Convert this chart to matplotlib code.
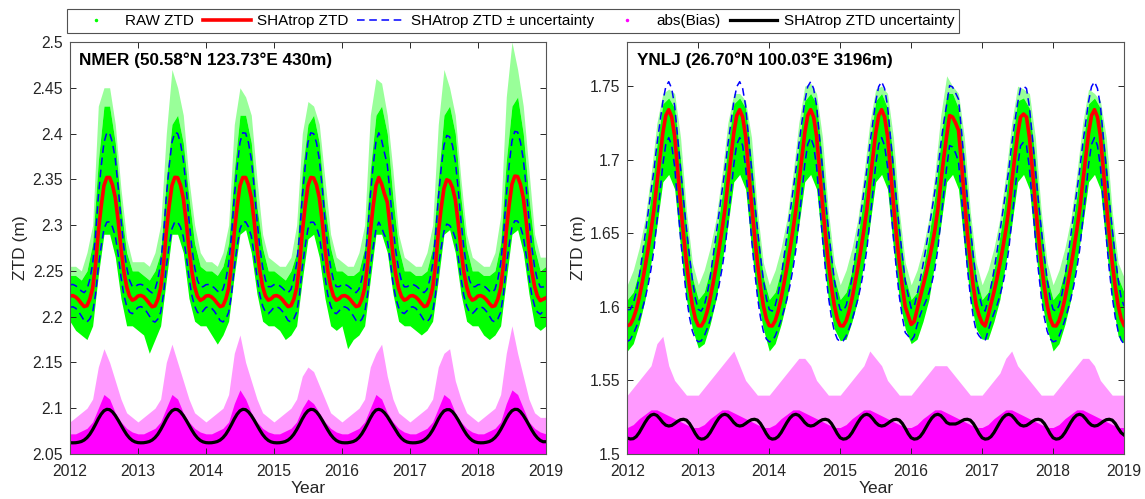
import numpy as np
import matplotlib
matplotlib.use("Agg")
import matplotlib.pyplot as plt
from matplotlib.lines import Line2D
from matplotlib.ticker import FormatStrFormatter

plt.rcParams['font.family'] = ['Liberation Sans', 'DejaVu Sans']

# time axes: model curves every half month, raw/bias envelopes every month (2012.0 - 2019.0)
t_half = 2012 + np.arange(169) / 24
t_month = 2012 + np.arange(85) / 12

# ---------------- NMER ----------------
nmer_ztd = np.array([
    2.2225, 2.2230, 2.2215, 2.2185, 2.2145, 2.2110, 2.2120, 2.2190, 2.2310, 2.2560, 2.2920, 2.3200,
    2.3430, 2.3520, 2.3520, 2.3440, 2.3300, 2.3050, 2.2750, 2.2500, 2.2330, 2.2225, 2.2180, 2.2195,
    2.2225, 2.2232, 2.2218, 2.2185, 2.2145, 2.2108, 2.2118, 2.2188, 2.2312, 2.2565, 2.2925, 2.3205,
    2.3432, 2.3522, 2.3518, 2.3438, 2.3295, 2.3045, 2.2748, 2.2498, 2.2328, 2.2222, 2.2178, 2.2195,
    2.2225, 2.2230, 2.2215, 2.2185, 2.2145, 2.2110, 2.2120, 2.2190, 2.2310, 2.2560, 2.2920, 2.3200,
    2.3430, 2.3520, 2.3520, 2.3440, 2.3300, 2.3050, 2.2750, 2.2500, 2.2330, 2.2225, 2.2180, 2.2195,
    2.2225, 2.2230, 2.2215, 2.2185, 2.2145, 2.2110, 2.2120, 2.2190, 2.2310, 2.2560, 2.2920, 2.3200,
    2.3430, 2.3520, 2.3515, 2.3440, 2.3300, 2.3050, 2.2750, 2.2500, 2.2330, 2.2225, 2.2180, 2.2195,
    2.2225, 2.2230, 2.2215, 2.2185, 2.2145, 2.2110, 2.2120, 2.2190, 2.2310, 2.2560, 2.2920, 2.3200,
    2.3430, 2.3520, 2.3450, 2.3340, 2.3250, 2.2980, 2.2680, 2.2460, 2.2310, 2.2220, 2.2180, 2.2195,
    2.2225, 2.2230, 2.2215, 2.2185, 2.2145, 2.2110, 2.2120, 2.2190, 2.2310, 2.2555, 2.2910, 2.3180,
    2.3400, 2.3495, 2.3480, 2.3410, 2.3280, 2.3030, 2.2740, 2.2495, 2.2330, 2.2225, 2.2180, 2.2195,
    2.2225, 2.2230, 2.2215, 2.2185, 2.2145, 2.2110, 2.2120, 2.2190, 2.2310, 2.2565, 2.2930, 2.3215,
    2.3445, 2.3535, 2.3530, 2.3445, 2.3300, 2.3050, 2.2750, 2.2500, 2.2330, 2.2225, 2.2175, 2.2190,
    2.2205])

nmer_unc = np.array([
    0.0123, 0.0122, 0.0123, 0.0128, 0.0136, 0.0152, 0.0178, 0.0215, 0.0265, 0.0322, 0.0383, 0.0435,
    0.0472, 0.0488, 0.0484, 0.0460, 0.0420, 0.0370, 0.0315, 0.0262, 0.0213, 0.0175, 0.0148, 0.0132,
    0.0124, 0.0122, 0.0123, 0.0128, 0.0136, 0.0152, 0.0178, 0.0215, 0.0265, 0.0322, 0.0383, 0.0435,
    0.0472, 0.0488, 0.0484, 0.0460, 0.0420, 0.0370, 0.0315, 0.0262, 0.0213, 0.0175, 0.0148, 0.0132,
    0.0124, 0.0122, 0.0123, 0.0128, 0.0136, 0.0152, 0.0178, 0.0215, 0.0265, 0.0322, 0.0383, 0.0435,
    0.0472, 0.0488, 0.0484, 0.0460, 0.0420, 0.0370, 0.0315, 0.0262, 0.0213, 0.0175, 0.0148, 0.0132,
    0.0124, 0.0122, 0.0123, 0.0128, 0.0136, 0.0152, 0.0178, 0.0215, 0.0265, 0.0322, 0.0383, 0.0435,
    0.0472, 0.0488, 0.0484, 0.0460, 0.0420, 0.0370, 0.0315, 0.0262, 0.0213, 0.0175, 0.0148, 0.0132,
    0.0124, 0.0122, 0.0123, 0.0128, 0.0136, 0.0152, 0.0180, 0.0220, 0.0272, 0.0330, 0.0392, 0.0445,
    0.0480, 0.0488, 0.0478, 0.0450, 0.0410, 0.0360, 0.0308, 0.0258, 0.0210, 0.0172, 0.0146, 0.0131,
    0.0124, 0.0122, 0.0123, 0.0128, 0.0136, 0.0152, 0.0176, 0.0212, 0.0260, 0.0318, 0.0380, 0.0432,
    0.0470, 0.0484, 0.0484, 0.0462, 0.0422, 0.0372, 0.0316, 0.0262, 0.0213, 0.0175, 0.0148, 0.0132,
    0.0124, 0.0122, 0.0123, 0.0128, 0.0136, 0.0152, 0.0178, 0.0215, 0.0265, 0.0322, 0.0383, 0.0435,
    0.0472, 0.0488, 0.0486, 0.0462, 0.0422, 0.0372, 0.0316, 0.0262, 0.0213, 0.0175, 0.0148, 0.0134,
    0.0134])

nmer_raw_lo = np.array([
    2.195, 2.185, 2.180, 2.175, 2.190, 2.245, 2.290, 2.290, 2.265, 2.220, 2.190, 2.190,
    2.185, 2.180, 2.160, 2.175, 2.190, 2.240, 2.290, 2.290, 2.270, 2.220, 2.195, 2.190,
    2.190, 2.180, 2.170, 2.180, 2.195, 2.245, 2.290, 2.295, 2.270, 2.225, 2.195, 2.190,
    2.190, 2.185, 2.175, 2.180, 2.190, 2.240, 2.285, 2.290, 2.265, 2.220, 2.190, 2.185,
    2.190, 2.165, 2.175, 2.180, 2.190, 2.240, 2.290, 2.290, 2.270, 2.225, 2.195, 2.190,
    2.190, 2.185, 2.180, 2.185, 2.195, 2.240, 2.290, 2.295, 2.270, 2.225, 2.195, 2.190,
    2.190, 2.180, 2.175, 2.180, 2.190, 2.240, 2.290, 2.295, 2.270, 2.225, 2.190, 2.185,
    2.190])

nmer_raw_hi = np.array([
    2.245, 2.245, 2.240, 2.250, 2.280, 2.370, 2.430, 2.430, 2.390, 2.320, 2.270, 2.250,
    2.250, 2.245, 2.240, 2.250, 2.270, 2.350, 2.410, 2.420, 2.390, 2.330, 2.280, 2.255,
    2.250, 2.250, 2.245, 2.255, 2.280, 2.360, 2.420, 2.420, 2.390, 2.320, 2.275, 2.250,
    2.250, 2.245, 2.240, 2.250, 2.270, 2.360, 2.410, 2.420, 2.390, 2.320, 2.275, 2.250,
    2.250, 2.245, 2.245, 2.250, 2.275, 2.360, 2.420, 2.430, 2.400, 2.330, 2.275, 2.250,
    2.250, 2.245, 2.245, 2.250, 2.275, 2.350, 2.420, 2.430, 2.400, 2.330, 2.275, 2.250,
    2.250, 2.245, 2.245, 2.250, 2.280, 2.370, 2.430, 2.440, 2.400, 2.330, 2.275, 2.250,
    2.255])

nmer_raw_top = np.array([
    2.255, 2.255, 2.250, 2.270, 2.300, 2.430, 2.450, 2.450, 2.410, 2.340, 2.285, 2.260,
    2.260, 2.260, 2.255, 2.270, 2.300, 2.400, 2.470, 2.450, 2.420, 2.350, 2.300, 2.270,
    2.260, 2.260, 2.255, 2.270, 2.300, 2.410, 2.450, 2.440, 2.420, 2.350, 2.290, 2.265,
    2.260, 2.255, 2.255, 2.265, 2.300, 2.400, 2.435, 2.430, 2.410, 2.350, 2.290, 2.265,
    2.260, 2.255, 2.255, 2.270, 2.300, 2.420, 2.460, 2.455, 2.420, 2.360, 2.290, 2.265,
    2.260, 2.255, 2.255, 2.270, 2.300, 2.410, 2.470, 2.450, 2.420, 2.350, 2.290, 2.265,
    2.260, 2.255, 2.255, 2.270, 2.310, 2.440, 2.500, 2.470, 2.430, 2.360, 2.290, 2.265,
    2.265])

nmer_bias_core = np.array([
    0.022, 0.022, 0.025, 0.028, 0.035, 0.050, 0.065, 0.060, 0.045, 0.035, 0.028, 0.024,
    0.022, 0.022, 0.025, 0.028, 0.035, 0.050, 0.065, 0.060, 0.045, 0.035, 0.028, 0.024,
    0.022, 0.022, 0.025, 0.028, 0.035, 0.055, 0.070, 0.060, 0.045, 0.035, 0.028, 0.024,
    0.022, 0.022, 0.025, 0.028, 0.035, 0.050, 0.060, 0.055, 0.045, 0.035, 0.028, 0.024,
    0.022, 0.022, 0.025, 0.028, 0.035, 0.050, 0.065, 0.060, 0.045, 0.035, 0.028, 0.024,
    0.022, 0.022, 0.025, 0.028, 0.035, 0.050, 0.065, 0.060, 0.045, 0.035, 0.028, 0.024,
    0.022, 0.022, 0.025, 0.028, 0.035, 0.055, 0.070, 0.065, 0.050, 0.035, 0.028, 0.024,
    0.022])

nmer_bias_top = np.array([
    0.035, 0.040, 0.045, 0.050, 0.060, 0.095, 0.115, 0.100, 0.080, 0.060, 0.045, 0.040,
    0.035, 0.040, 0.045, 0.050, 0.060, 0.100, 0.120, 0.100, 0.080, 0.060, 0.045, 0.040,
    0.035, 0.040, 0.045, 0.050, 0.065, 0.110, 0.130, 0.100, 0.080, 0.060, 0.045, 0.040,
    0.035, 0.040, 0.045, 0.050, 0.060, 0.085, 0.095, 0.090, 0.075, 0.060, 0.045, 0.040,
    0.035, 0.040, 0.045, 0.050, 0.060, 0.095, 0.110, 0.120, 0.085, 0.060, 0.045, 0.040,
    0.035, 0.040, 0.045, 0.050, 0.060, 0.095, 0.110, 0.115, 0.080, 0.060, 0.045, 0.040,
    0.035, 0.040, 0.045, 0.050, 0.065, 0.110, 0.140, 0.110, 0.085, 0.060, 0.045, 0.040,
    0.040])

# ---------------- YNLJ ----------------
ynlj_ztd = np.array([
    1.5872, 1.5880, 1.5920, 1.5980, 1.6060, 1.6160, 1.6270, 1.6390, 1.6520, 1.6660, 1.6840, 1.7010,
    1.7180, 1.7300, 1.7340, 1.7290, 1.7160, 1.6930, 1.6700, 1.6490, 1.6300, 1.6140, 1.6010, 1.5920,
    1.5872, 1.5870, 1.5905, 1.5970, 1.6055, 1.6160, 1.6270, 1.6390, 1.6520, 1.6660, 1.6840, 1.7010,
    1.7180, 1.7300, 1.7340, 1.7290, 1.7160, 1.6930, 1.6700, 1.6490, 1.6300, 1.6140, 1.6010, 1.5920,
    1.5872, 1.5870, 1.5905, 1.5970, 1.6055, 1.6160, 1.6270, 1.6390, 1.6520, 1.6660, 1.6840, 1.7010,
    1.7180, 1.7300, 1.7340, 1.7290, 1.7160, 1.6930, 1.6700, 1.6490, 1.6300, 1.6140, 1.6010, 1.5920,
    1.5872, 1.5870, 1.5905, 1.5970, 1.6055, 1.6160, 1.6270, 1.6390, 1.6520, 1.6660, 1.6840, 1.7010,
    1.7180, 1.7300, 1.7340, 1.7290, 1.7160, 1.6930, 1.6700, 1.6490, 1.6300, 1.6140, 1.6000, 1.5940,
    1.5880, 1.5900, 1.5980, 1.6060, 1.6140, 1.6220, 1.6310, 1.6410, 1.6520, 1.6660, 1.6840, 1.7010,
    1.7160, 1.7300, 1.7290, 1.7250, 1.7200, 1.6980, 1.6730, 1.6500, 1.6310, 1.6140, 1.6010, 1.5940,
    1.5890, 1.5870, 1.5940, 1.6020, 1.6100, 1.6190, 1.6290, 1.6400, 1.6520, 1.6660, 1.6840, 1.7010,
    1.7170, 1.7290, 1.7310, 1.7290, 1.7150, 1.6930, 1.6700, 1.6490, 1.6300, 1.6140, 1.6010, 1.5920,
    1.5872, 1.5870, 1.5905, 1.5970, 1.6055, 1.6160, 1.6270, 1.6390, 1.6520, 1.6660, 1.6840, 1.7010,
    1.7180, 1.7300, 1.7340, 1.7290, 1.7160, 1.6930, 1.6700, 1.6490, 1.6300, 1.6140, 1.6010, 1.5920,
    1.5875])

ynlj_unc = np.array([
    0.0108, 0.0102, 0.0104, 0.0118, 0.0145, 0.0180, 0.0215, 0.0245, 0.0264, 0.0270, 0.0262, 0.0240,
    0.0214, 0.0196, 0.0190, 0.0194, 0.0207, 0.0222, 0.0233, 0.0236, 0.0230, 0.0208, 0.0175, 0.0138,
    0.0110, 0.0101, 0.0104, 0.0118, 0.0145, 0.0180, 0.0215, 0.0245, 0.0264, 0.0270, 0.0262, 0.0240,
    0.0214, 0.0196, 0.0190, 0.0194, 0.0207, 0.0222, 0.0233, 0.0236, 0.0230, 0.0208, 0.0175, 0.0138,
    0.0110, 0.0101, 0.0104, 0.0118, 0.0145, 0.0180, 0.0215, 0.0245, 0.0264, 0.0270, 0.0262, 0.0240,
    0.0214, 0.0196, 0.0190, 0.0194, 0.0207, 0.0222, 0.0233, 0.0236, 0.0230, 0.0208, 0.0175, 0.0138,
    0.0110, 0.0101, 0.0104, 0.0118, 0.0145, 0.0180, 0.0215, 0.0245, 0.0264, 0.0270, 0.0262, 0.0240,
    0.0214, 0.0196, 0.0190, 0.0194, 0.0207, 0.0222, 0.0233, 0.0236, 0.0230, 0.0208, 0.0175, 0.0138,
    0.0110, 0.0101, 0.0104, 0.0118, 0.0145, 0.0180, 0.0215, 0.0245, 0.0264, 0.0270, 0.0262, 0.0240,
    0.0214, 0.0204, 0.0204, 0.0204, 0.0212, 0.0224, 0.0234, 0.0236, 0.0230, 0.0208, 0.0175, 0.0138,
    0.0110, 0.0101, 0.0104, 0.0118, 0.0145, 0.0180, 0.0215, 0.0245, 0.0264, 0.0270, 0.0262, 0.0240,
    0.0214, 0.0196, 0.0190, 0.0194, 0.0207, 0.0222, 0.0233, 0.0236, 0.0230, 0.0208, 0.0175, 0.0138,
    0.0110, 0.0101, 0.0104, 0.0118, 0.0145, 0.0180, 0.0215, 0.0245, 0.0264, 0.0270, 0.0262, 0.0240,
    0.0214, 0.0196, 0.0190, 0.0194, 0.0207, 0.0222, 0.0233, 0.0236, 0.0230, 0.0208, 0.0175, 0.0145,
    0.0129])

ynlj_raw_lo = np.array([
    1.570, 1.575, 1.588, 1.605, 1.630, 1.655, 1.685, 1.690, 1.680, 1.640, 1.605, 1.585,
    1.572, 1.575, 1.588, 1.605, 1.630, 1.655, 1.685, 1.690, 1.680, 1.640, 1.605, 1.585,
    1.570, 1.575, 1.588, 1.605, 1.630, 1.655, 1.685, 1.690, 1.680, 1.640, 1.605, 1.585,
    1.577, 1.578, 1.590, 1.605, 1.630, 1.655, 1.685, 1.690, 1.680, 1.640, 1.605, 1.585,
    1.575, 1.578, 1.590, 1.605, 1.630, 1.655, 1.685, 1.690, 1.680, 1.640, 1.605, 1.585,
    1.578, 1.578, 1.590, 1.605, 1.630, 1.655, 1.685, 1.690, 1.680, 1.640, 1.605, 1.585,
    1.570, 1.575, 1.588, 1.605, 1.630, 1.655, 1.685, 1.690, 1.680, 1.640, 1.605, 1.580,
    1.575])

ynlj_raw_hi = np.array([
    1.605, 1.610, 1.625, 1.648, 1.675, 1.710, 1.738, 1.742, 1.735, 1.700, 1.655, 1.620,
    1.605, 1.610, 1.625, 1.648, 1.675, 1.710, 1.738, 1.742, 1.735, 1.700, 1.655, 1.620,
    1.605, 1.610, 1.625, 1.648, 1.675, 1.710, 1.740, 1.745, 1.738, 1.700, 1.655, 1.620,
    1.605, 1.610, 1.625, 1.648, 1.675, 1.710, 1.740, 1.745, 1.735, 1.700, 1.655, 1.620,
    1.605, 1.610, 1.625, 1.648, 1.675, 1.712, 1.745, 1.745, 1.735, 1.700, 1.655, 1.620,
    1.605, 1.610, 1.625, 1.648, 1.675, 1.710, 1.740, 1.742, 1.735, 1.700, 1.655, 1.620,
    1.605, 1.610, 1.625, 1.648, 1.675, 1.710, 1.738, 1.742, 1.735, 1.700, 1.655, 1.620,
    1.610])

ynlj_raw_top = np.array([
    1.615, 1.625, 1.640, 1.660, 1.690, 1.725, 1.745, 1.748, 1.745, 1.715, 1.665, 1.630,
    1.615, 1.625, 1.640, 1.660, 1.690, 1.725, 1.745, 1.745, 1.740, 1.715, 1.665, 1.630,
    1.615, 1.625, 1.640, 1.660, 1.690, 1.725, 1.750, 1.752, 1.745, 1.715, 1.665, 1.630,
    1.615, 1.625, 1.640, 1.660, 1.690, 1.725, 1.748, 1.750, 1.745, 1.715, 1.665, 1.630,
    1.615, 1.625, 1.640, 1.660, 1.690, 1.730, 1.757, 1.750, 1.745, 1.715, 1.665, 1.630,
    1.615, 1.625, 1.640, 1.660, 1.690, 1.725, 1.750, 1.748, 1.745, 1.715, 1.665, 1.630,
    1.615, 1.625, 1.640, 1.660, 1.690, 1.725, 1.748, 1.745, 1.740, 1.715, 1.665, 1.630,
    1.620])

ynlj_bias_core = np.array([
    0.018, 0.020, 0.024, 0.027, 0.030, 0.030, 0.028, 0.026, 0.024, 0.022, 0.020, 0.018,
    0.018, 0.020, 0.024, 0.027, 0.030, 0.030, 0.028, 0.026, 0.024, 0.022, 0.020, 0.018,
    0.018, 0.020, 0.024, 0.027, 0.030, 0.030, 0.028, 0.026, 0.024, 0.022, 0.020, 0.018,
    0.018, 0.020, 0.024, 0.027, 0.030, 0.030, 0.028, 0.026, 0.024, 0.022, 0.020, 0.018,
    0.018, 0.020, 0.024, 0.027, 0.030, 0.030, 0.028, 0.026, 0.024, 0.022, 0.020, 0.018,
    0.018, 0.020, 0.024, 0.027, 0.030, 0.030, 0.028, 0.026, 0.024, 0.022, 0.020, 0.018,
    0.018, 0.020, 0.024, 0.027, 0.030, 0.030, 0.028, 0.026, 0.024, 0.022, 0.020, 0.018,
    0.018])

ynlj_bias_top = np.array([
    0.040, 0.045, 0.050, 0.055, 0.060, 0.075, 0.080, 0.060, 0.050, 0.045, 0.040, 0.040,
    0.040, 0.045, 0.050, 0.055, 0.060, 0.065, 0.070, 0.060, 0.050, 0.045, 0.040, 0.040,
    0.040, 0.045, 0.050, 0.055, 0.060, 0.065, 0.065, 0.060, 0.050, 0.045, 0.040, 0.040,
    0.040, 0.045, 0.050, 0.055, 0.060, 0.070, 0.065, 0.060, 0.050, 0.045, 0.040, 0.040,
    0.040, 0.045, 0.050, 0.055, 0.060, 0.060, 0.060, 0.055, 0.050, 0.045, 0.040, 0.040,
    0.040, 0.045, 0.050, 0.055, 0.065, 0.070, 0.060, 0.055, 0.050, 0.045, 0.040, 0.040,
    0.040, 0.045, 0.050, 0.055, 0.060, 0.065, 0.065, 0.060, 0.050, 0.045, 0.040, 0.040,
    0.040])

years = [2012, 2013, 2014, 2015, 2016, 2017, 2018, 2019]
nmer_yticks = [2.05, 2.1, 2.15, 2.2, 2.25, 2.3, 2.35, 2.4, 2.45, 2.5]
ynlj_yticks = [1.5, 1.55, 1.6, 1.65, 1.7, 1.75]

GREEN = '#00ff00'
MAGENTA = '#ff00ff'
AXCOL = '#262626'


def draw_panel(ax, ztd, unc, raw_lo, raw_hi, raw_top, bias_core, bias_top,
               base, top, yticks, title):
    # raw ZTD cloud (dense part + sparse spikes)
    ax.fill_between(t_month, raw_hi, raw_top, color=GREEN, alpha=0.4, lw=0)
    ax.fill_between(t_month, raw_lo, raw_hi, color=GREEN, lw=0)
    ax.plot(t_half, ztd, color='red', lw=2.6)
    ax.plot(t_half, ztd + unc, color='blue', lw=1.1, dashes=(5, 3))
    ax.plot(t_half, ztd - unc, color='blue', lw=1.1, dashes=(5, 3))
    # |bias| and uncertainty are shown shifted up to the bottom of the axis
    ax.fill_between(t_month, base, base + bias_top, color=MAGENTA, alpha=0.4, lw=0)
    ax.fill_between(t_month, base, base + bias_core, color=MAGENTA, lw=0)
    ax.plot(t_half, base + unc, color='black', lw=2.3)

    ax.set_xlim(2012, 2019)
    ax.set_ylim(base, top)
    ax.set_xticks(years)
    ax.set_yticks(yticks)
    ax.yaxis.set_major_formatter(FormatStrFormatter('%g'))
    ax.tick_params(direction='in', top=True, right=True, length=4, width=0.7,
                   labelsize=11.3, colors=AXCOL, pad=5)
    ax.tick_params(axis='x', pad=7)
    for s in ax.spines.values():
        s.set_color('#555555')
        s.set_linewidth(0.8)
    ax.set_xlabel('Year', fontsize=12.5, color=AXCOL, labelpad=2)
    ax.set_ylabel('ZTD (m)', fontsize=12.5, color=AXCOL, labelpad=3)
    ax.text(0.02, 0.955, title, transform=ax.transAxes, fontsize=12.3,
            fontweight='bold', va='center', ha='left')


fig = plt.figure(figsize=(11.45, 4.99), dpi=100)
ax1 = fig.add_axes([0.0611, 0.0902, 0.4157, 0.8257])
ax2 = fig.add_axes([0.5479, 0.0902, 0.4338, 0.8257])

draw_panel(ax1, nmer_ztd, nmer_unc, nmer_raw_lo, nmer_raw_hi, nmer_raw_top,
           nmer_bias_core, nmer_bias_top, 2.05, 2.5, nmer_yticks,
           'NMER (50.58°N 123.73°E 430m)')
draw_panel(ax2, ynlj_ztd, ynlj_unc, ynlj_raw_lo, ynlj_raw_hi, ynlj_raw_top,
           ynlj_bias_core, ynlj_bias_top, 1.5, 1.78, ynlj_yticks,
           'YNLJ (26.70°N 100.03°E 3196m)')

handles = [
    Line2D([], [], ls='none', marker='.', ms=3, color=GREEN),
    Line2D([], [], color='red', lw=2.6),
    Line2D([], [], color='blue', lw=1.1, dashes=(5, 3)),
    Line2D([], [], ls='none', marker='.', ms=3, color=MAGENTA),
    Line2D([], [], color='black', lw=2.3),
]
labels = ['RAW ZTD', 'SHAtrop ZTD', 'SHAtrop ZTD ± uncertainty',
          'abs(Bias)', 'SHAtrop ZTD uncertainty']
leg = fig.legend(handles, labels, ncol=5, loc='center', bbox_to_anchor=(0.448, 0.958),
                 fontsize=11, frameon=True, fancybox=False, edgecolor=AXCOL,
                 handlelength=3.1, handletextpad=0.4, columnspacing=0.6,
                 borderpad=0.3, borderaxespad=0)
leg.get_frame().set_linewidth(0.8)

fig.savefig('out.png', dpi=100)
